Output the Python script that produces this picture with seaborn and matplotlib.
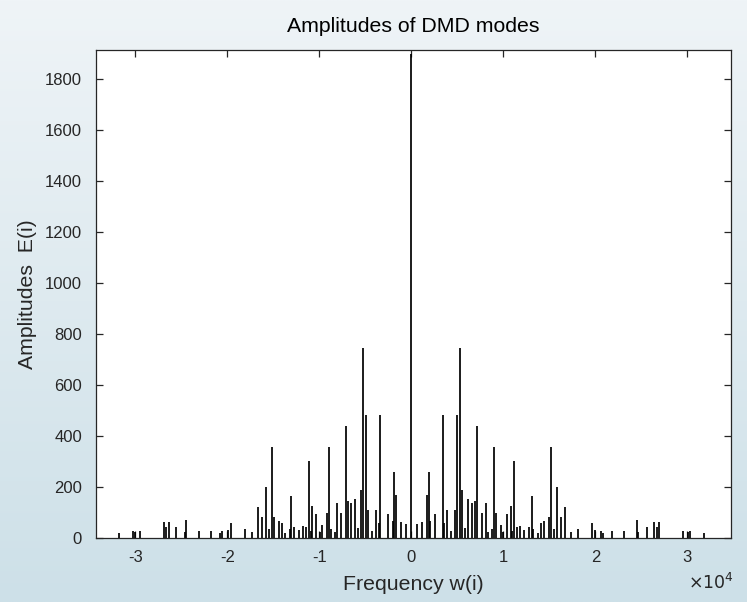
import numpy as np
import pandas as pd
import matplotlib
matplotlib.use("Agg")
import matplotlib.pyplot as plt
import seaborn as sns

# DMD mode frequencies (rad/s) and their amplitudes; modes come in conjugate pairs
freq_neg = [-31790, -30300, -30020, -29480, -26900, -26720, -26360, -25560,
            -24650, -24470, -23130, -21760, -20850, -20560, -19950, -19660,
            -18100, -17310, -16720, -16220, -15780, -15460, -15160, -14910,
            -14370, -14050, -13720, -13240, -13060, -12740, -12230, -11790,
            -11430, -11180, -10960, -10850, -10350, -9980, -9700, -9180,
            -8930, -8720, -8350, -8100, -7660, -7120, -6940, -6550, -6180,
            -5820, -5490, -5310, -4950, -4760, -4290, -3860, -3500, -3390,
            -2550, -2040, -1870, -1650, -1100, -630]
amp_neg = [21, 27, 25, 27, 64, 42, 64, 42, 25, 72, 29, 29, 20, 26, 31, 57,
           37, 22, 123, 81, 201, 37, 355, 82, 67, 57, 20, 35, 166, 44, 30, 47,
           44, 300, 26, 125, 94, 25, 50, 97, 355, 34, 25, 137, 98, 438, 145,
           139, 153, 38, 187, 745, 482, 108, 26, 108, 57, 482, 93, 65, 259,
           170, 61, 56]
freq_zero = [0]
amp_zero = [1898]
freq_pos = [630, 1100, 1650, 1870, 2040, 2550, 3390, 3500, 3860, 4290,
            4760, 4950, 5310, 5490, 5820, 6180, 6550, 6940, 7120, 7660,
            8100, 8350, 8720, 8930, 9180, 9700, 9980, 10350, 10850, 10960,
            11180, 11430, 11790, 12230, 12740, 13060, 13240, 13720, 14050,
            14370, 14910, 15160, 15460, 15780, 16220, 16720, 17310, 18100,
            19660, 19950, 20560, 20850, 21760, 23130, 24470, 24650, 25560,
            26360, 26720, 26900, 29480, 30020, 30300, 31790]
amp_pos = [56, 61, 170, 259, 65, 93, 482, 57, 108, 26, 108, 482, 745, 187,
           38, 153, 139, 145, 438, 98, 137, 25, 34, 355, 97, 50, 25, 94, 125,
           26, 300, 44, 47, 30, 44, 166, 35, 20, 57, 67, 82, 355, 37, 201, 81,
           123, 22, 37, 57, 31, 26, 20, 29, 29, 72, 25, 42, 64, 42, 64, 27,
           25, 27, 21]

x_ticks = [-30000, -20000, -10000, 0, 10000, 20000, 30000]
x_tick_labels = ["-3", "-2", "-1", "0", "1", "2", "3"]
y_ticks = list(range(0, 2000, 200))

modes = pd.DataFrame({
    "w": freq_neg + freq_zero + freq_pos,
    "E": amp_neg + amp_zero + amp_pos,
})

sns.set_theme(style="ticks")
plt.rcParams["font.family"] = ["Liberation Sans", "DejaVu Sans"]
plt.rcParams["axes.unicode_minus"] = False

edge = "#262626"
fig = plt.figure(figsize=(7.47, 6.02), dpi=100)

# soft blue-grey window gradient behind everything
bg = fig.add_axes([0, 0, 1, 1], zorder=-10)
grad = np.linspace(0, 1, 256)[:, None]
top_c = np.array([239, 244, 247]) / 255
bot_c = np.array([205, 224, 232]) / 255
img = top_c[None, None, :] * (1 - grad[..., None]) + bot_c[None, None, :] * grad[..., None]
bg.imshow(np.repeat(img, 4, axis=1), aspect="auto", extent=[0, 1, 0, 1])
bg.set_axis_off()

ax = fig.add_axes([0.1285, 0.1063, 0.850, 0.8106])
ax.set_facecolor("white")

# stem plot without markers
ax.vlines(modes["w"], 0, modes["E"], colors="black", linewidth=1.25)

ax.set_xlim(-34290, 34730)
ax.set_ylim(0, 1912)
ax.set_xticks(x_ticks)
ax.set_xticklabels(x_tick_labels)
ax.set_yticks(y_ticks)

ax.tick_params(axis="both", direction="in", length=5, width=0.9, color=edge,
               labelcolor=edge, labelsize=12, top=True, right=True)
ax.tick_params(axis="x", pad=8.5)
ax.tick_params(axis="y", pad=10)
for side in ax.spines.values():
    side.set_color(edge)
    side.set_linewidth(0.9)
    side.set_visible(True)

ax.set_xlabel("Frequency w(i)", fontsize=15.3, color=edge, labelpad=7)
ax.set_ylabel("Amplitudes  E(i)", fontsize=15.3, color=edge, labelpad=6)
ax.set_title("Amplitudes of DMD modes", fontsize=15.3, color="black", pad=13)

fig.text(0.982, 0.021, r"$\times10^{4}$", ha="right", va="baseline",
         fontsize=12.5, color=edge)

fig.savefig("out.png", dpi=100)
